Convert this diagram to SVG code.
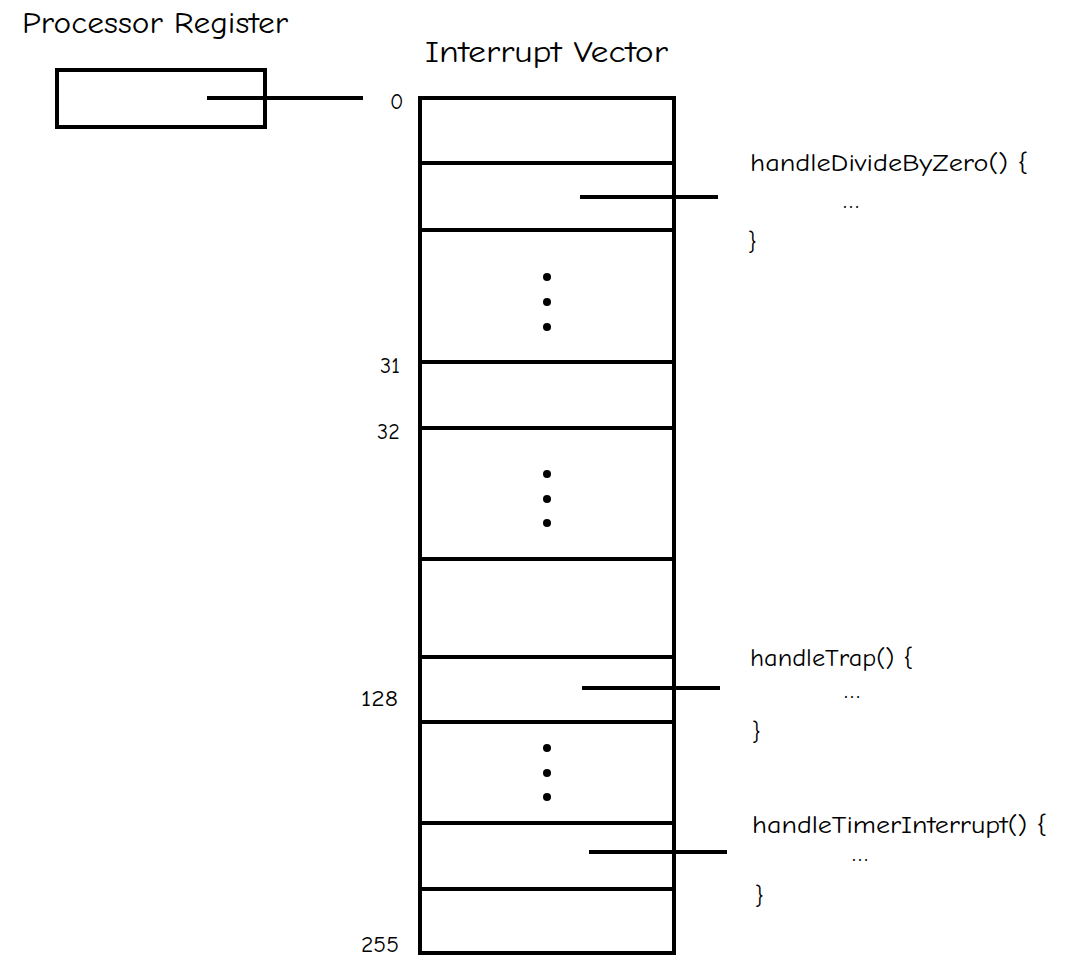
<svg xmlns="http://www.w3.org/2000/svg" width="1066" height="958" viewBox="0 0 1066 958">
<style>
.ln{stroke:#000;stroke-width:4;fill:none;stroke-linecap:butt}
.t{font-family:"Comic Sans MS","Comic Neue","Liberation Sans",sans-serif;fill:#000}
.title{font-size:30px}
.code{font-size:24px}
.num{font-size:22px}
.dot{fill:#000}
</style>
<rect width="1066" height="958" fill="#fff"/>
<g id="title-register"><text class="t title" x="22" y="33" textLength="266" lengthAdjust="spacingAndGlyphs">Processor Register</text></g>
<g id="title-vector"><text class="t title" x="425" y="62" textLength="243" lengthAdjust="spacingAndGlyphs">Interrupt Vector</text></g>
<g id="register"><rect class="ln" x="57" y="70" width="208" height="57"/></g>
<g id="vector">
<rect class="ln" x="420" y="98" width="254" height="855"/>
<line class="ln" x1="420" y1="163" x2="674" y2="163"/>
<line class="ln" x1="420" y1="230" x2="674" y2="230"/>
<line class="ln" x1="420" y1="362" x2="674" y2="362"/>
<line class="ln" x1="420" y1="428" x2="674" y2="428"/>
<line class="ln" x1="420" y1="559" x2="674" y2="559"/>
<line class="ln" x1="420" y1="657" x2="674" y2="657"/>
<line class="ln" x1="420" y1="722" x2="674" y2="722"/>
<line class="ln" x1="420" y1="823" x2="674" y2="823"/>
<line class="ln" x1="420" y1="889" x2="674" y2="889"/>
<circle class="dot" cx="547" cy="277" r="4"/><circle class="dot" cx="547" cy="302" r="4"/><circle class="dot" cx="547" cy="327" r="4"/>
<circle class="dot" cx="547" cy="474" r="4"/><circle class="dot" cx="547" cy="499" r="4"/><circle class="dot" cx="547" cy="523" r="4"/>
<circle class="dot" cx="547" cy="748" r="4"/><circle class="dot" cx="547" cy="773" r="4"/><circle class="dot" cx="547" cy="797" r="4"/>
<text class="t num" x="390" y="109">0</text>
<text class="t num" x="380" y="373">31</text>
<text class="t num" x="377" y="439">32</text>
<text class="t num" x="361" y="706" textLength="37" lengthAdjust="spacingAndGlyphs">128</text>
<text class="t num" x="361" y="952" textLength="38" lengthAdjust="spacingAndGlyphs">255</text>
</g>
<g id="handler-divide">
<text class="t code" x="750" y="171" textLength="278" lengthAdjust="spacingAndGlyphs">handleDivideByZero() {</text>
<text class="t code" x="843" y="208" textLength="16" lengthAdjust="spacingAndGlyphs">…</text>
<text class="t code" x="748" y="250">}</text>
</g>
<g id="handler-trap">
<text class="t code" x="750" y="666" textLength="163" lengthAdjust="spacingAndGlyphs">handleTrap() {</text>
<text class="t code" x="844" y="698" textLength="16" lengthAdjust="spacingAndGlyphs">…</text>
<text class="t code" x="752" y="740">}</text>
</g>
<g id="handler-timer">
<text class="t code" x="752" y="833" textLength="295" lengthAdjust="spacingAndGlyphs">handleTimerInterrupt() {</text>
<text class="t code" x="852" y="861" textLength="16" lengthAdjust="spacingAndGlyphs">…</text>
<text class="t code" x="755" y="904">}</text>
</g>
<g id="connectors">
<line class="ln" x1="207" y1="98" x2="363" y2="98"/>
<line class="ln" x1="580" y1="197" x2="718" y2="197"/>
<line class="ln" x1="582" y1="688" x2="720" y2="688"/>
<line class="ln" x1="589" y1="852" x2="727" y2="852"/>
</g>
</svg>
